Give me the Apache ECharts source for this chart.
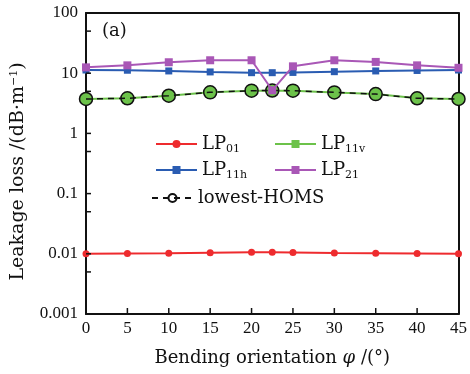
<!DOCTYPE html>
<html><head><meta charset="utf-8">
<script src="https://cdn.jsdelivr.net/npm/echarts@6/dist/echarts.min.js"></script>
<style>html,body{margin:0;padding:0;background:#fff}#c{width:470px;height:374px}</style>
</head><body><div id="c"></div>
<script>
const xValues = [0, 5, 10, 15, 20, 22.5, 25, 30, 35, 40, 45];
const lp01 = [0.0100, 0.0101, 0.0102, 0.0104, 0.0106, 0.0106, 0.0105, 0.0103, 0.0102, 0.0101, 0.0100];
const lp11h = [11.3, 11.2, 10.9, 10.5, 10.2, 10.2, 10.3, 10.6, 10.9, 11.1, 11.3];
const lp11v = [3.73, 3.83, 4.23, 4.81, 5.13, 5.13, 5.13, 4.80, 4.50, 3.83, 3.73];
const lowestHoms = [3.73, 3.83, 4.23, 4.81, 5.13, 5.15, 5.13, 4.80, 4.50, 3.83, 3.73];
const lp21 = [12.5, 13.5, 15.2, 16.4, 16.4, 5.2, 13.0, 16.4, 15.4, 13.5, 12.3];
const xTicks = [5, 10, 15, 20, 25, 30, 35, 40];
const yTickLabels = [0.001, 0.01, 0.1, 1, 10, 100];
const yTicks = [0.005, 0.01, 0.05, 0.1, 0.5, 1, 5, 10, 50];

const FONT = 'Liberation Serif';
const TFONT = 'DejaVu Serif';
const pairs = arr => arr.map((v, i) => [xValues[i], v]);
const chart = echarts.init(document.getElementById('c'));

const legendRich = {
  m: { fontFamily: TFONT, fontSize: 18, color: '#111', lineHeight: 20 },
  s: { fontFamily: TFONT, fontSize: 11, color: '#111', lineHeight: 20, padding: [11, 0, 0, 0] }
};
const legendFmt = name => {
  const m = name.match(/^LP(\w+)$/);
  return m ? '{m|LP}{s|' + m[1] + '}' : '{m|' + name + '}';
};
const legendBase = {
  orient: 'vertical', itemWidth: 41, itemHeight: 10, itemGap: 4,
  formatter: legendFmt, textStyle: { rich: legendRich }
};

const tickSeries = (name, data, dx, dy) => ({
  name, type: 'custom', xAxisIndex: 0, yAxisIndex: 0, data, clip: false, silent: true, z: 10,
  renderItem: (params, api) => {
    const p = api.coord([api.value(0), api.value(1)]);
    return { type: 'line', shape: { x1: p[0], y1: p[1], x2: p[0] + dx, y2: p[1] + dy },
      style: { stroke: '#111', lineWidth: 1.5 } };
  }
});

chart.setOption({
  animation: false,
  backgroundColor: '#fff',
  title: { text: '(a)', left: 97, top: 17, textStyle: { fontFamily: TFONT, fontSize: 18, fontWeight: 'normal', color: '#111' } },
  legend: [
    Object.assign({ left: 150, top: 128, data: ['LP01', 'LP11h'] }, legendBase),
    Object.assign({ left: 146, top: 184, data: ['lowest-HOMS'] }, legendBase),
    Object.assign({ left: 269, top: 128, data: ['LP11v', 'LP21'] }, legendBase)
  ],
  grid: { left: 86, right: 10, top: 13, bottom: 60 },
  xAxis: [{
    type: 'value', min: 0, max: 45, interval: 5, position: 'bottom',
    axisLine: { show: true, onZero: false, lineStyle: { color: '#111', width: 2 } },
    axisTick: { show: false },
    axisLabel: { fontFamily: FONT, fontSize: 17, color: '#111', margin: 6 },
    splitLine: { show: false },
    name: '{a|Bending orientation }{i|φ}{a| /(°)}',
    nameLocation: 'middle', nameGap: 35,
    nameTextStyle: { rich: { a: { fontFamily: TFONT, fontSize: 18, color: '#111' }, i: { fontFamily: TFONT, fontSize: 18, fontStyle: 'italic', color: '#111' } } }
  }, {
    type: 'value', min: 0, max: 45, position: 'top',
    axisLine: { show: true, onZero: false, lineStyle: { color: '#111', width: 2 } },
    axisTick: { show: false }, axisLabel: { show: false }, splitLine: { show: false }
  }],
  yAxis: [{
    type: 'log', logBase: 10, min: 0.001, max: 100,
    axisLine: { show: true, onZero: false, lineStyle: { color: '#111', width: 2 } },
    axisTick: { show: false },
    axisLabel: { fontFamily: FONT, fontSize: 17, color: '#111', margin: 8,
      formatter: v => { const t = yTickLabels.find(x => Math.abs(Math.log10(x) - Math.log10(v)) < 1e-6); return t !== undefined ? String(t) : ''; } },
    splitLine: { show: false },
    name: '{a|Leakage loss /(dB·m}{s|−1}{a|)}',
    nameLocation: 'middle', nameGap: 58, nameRotate: 90,
    nameTextStyle: { padding: [0, 16, 0, 0], rich: { a: { fontFamily: TFONT, fontSize: 19, color: '#111' }, s: { fontFamily: TFONT, fontSize: 11, color: '#111', padding: [0, 0, 8, 0] } } }
  }, {
    type: 'value', min: -3, max: 2, position: 'right',
    axisLine: { show: true, onZero: false, lineStyle: { color: '#111', width: 2 } },
    axisTick: { show: false }, axisLabel: { show: false }, splitLine: { show: false }
  }],
  series: [
    tickSeries('xticks', xTicks.map(x => [x, 0.001]), 0, -6),
    tickSeries('yticks', yTicks.map(v => [0, v]), 5, 0),
    { name: 'LP01', type: 'line', data: pairs(lp01), symbol: 'circle', symbolSize: 7,
      itemStyle: { color: '#ee2b2e' }, lineStyle: { width: 2, color: '#ee2b2e' }, z: 2 },
    { name: 'LP11h', type: 'line', data: pairs(lp11h), symbol: 'rect', symbolSize: 7,
      itemStyle: { color: '#2a5cb2' }, lineStyle: { width: 2, color: '#2a5cb2' }, z: 3 },
    { name: 'LP11v', type: 'line', symbol: 'rect', symbolSize: 7,
      data: pairs(lp11v).map(p => ({ value: p, symbol: 'circle', symbolSize: 13 })),
      itemStyle: { color: '#6cc24a' }, lineStyle: { width: 2, color: '#6cc24a' }, z: 4 },
    { name: 'lowest-HOMS', type: 'line', data: pairs(lowestHoms), symbol: 'circle', symbolSize: 13,
      itemStyle: { color: 'rgba(0,0,0,0)', borderColor: '#111', borderWidth: 1.5 },
      lineStyle: { width: 1.5, color: '#111', type: [6, 5] }, z: 5 },
    { name: 'LP21', type: 'line', data: pairs(lp21), symbol: 'rect', symbolSize: 8,
      itemStyle: { color: '#a957b6' }, lineStyle: { width: 2, color: '#a957b6' }, z: 6 }
  ]
});
</script></body></html>
